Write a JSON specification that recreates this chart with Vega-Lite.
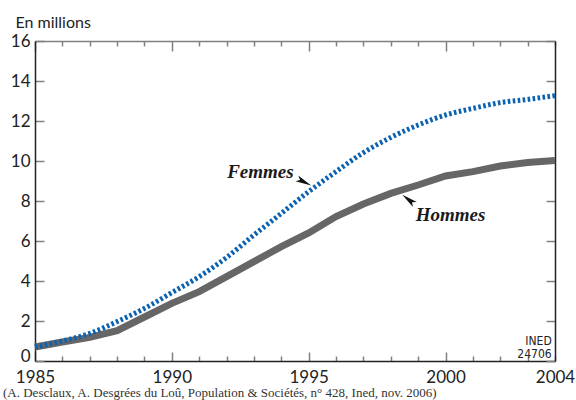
{
  "$schema": "https://vega.github.io/schema/vega-lite/v6.json",
  "width": 520,
  "height": 320,
  "autosize": {"type": "none"},
  "padding": {"left": 35, "top": 41, "right": 21, "bottom": 39},
  "background": "white",
  "config": {"view": {"stroke": null}},
  "title": {
    "text": "(A. Desclaux, A. Desgrées du Loû, Population & Sociétés, n° 428, Ined, nov. 2006)",
    "orient": "bottom",
    "anchor": "start",
    "frame": "group",
    "font": "Liberation Serif",
    "fontSize": 13,
    "fontWeight": "normal",
    "color": "#333",
    "dx": -32,
    "offset": 2
  },
  "datasets": {
    "series": [
      {"year": 1985, "Femmes": 0.7, "Hommes": 0.7},
      {"year": 1986, "Femmes": 1.0, "Hommes": 0.95},
      {"year": 1987, "Femmes": 1.38, "Hommes": 1.18},
      {"year": 1988, "Femmes": 1.97, "Hommes": 1.52},
      {"year": 1989, "Femmes": 2.63, "Hommes": 2.2},
      {"year": 1990, "Femmes": 3.42, "Hommes": 2.88},
      {"year": 1991, "Femmes": 4.22, "Hommes": 3.47},
      {"year": 1992, "Femmes": 5.18, "Hommes": 4.22},
      {"year": 1993, "Femmes": 6.3, "Hommes": 4.97},
      {"year": 1994, "Femmes": 7.38, "Hommes": 5.72},
      {"year": 1995, "Femmes": 8.47, "Hommes": 6.4},
      {"year": 1996, "Femmes": 9.47, "Hommes": 7.22},
      {"year": 1997, "Femmes": 10.42, "Hommes": 7.85},
      {"year": 1998, "Femmes": 11.18, "Hommes": 8.38},
      {"year": 1999, "Femmes": 11.8, "Hommes": 8.8},
      {"year": 2000, "Femmes": 12.3, "Hommes": 9.25},
      {"year": 2001, "Femmes": 12.63, "Hommes": 9.47},
      {"year": 2002, "Femmes": 12.92, "Hommes": 9.75},
      {"year": 2003, "Femmes": 13.08, "Hommes": 9.92},
      {"year": 2004, "Femmes": 13.27, "Hommes": 10.02}
    ],
    "labelF": [{"year": 1994.45, "value": 9.15, "text": "Femmes"}],
    "labelH": [{"year": 1998.91, "value": 7.01, "text": "Hommes"}],
    "arrowF": [{"year": 1994.83, "value": 8.95}],
    "arrowH": [{"year": 1998.65, "value": 8.07}],
    "ined": [
      {"year": 2003.88, "value": 0.8, "text": "INED"},
      {"year": 2003.88, "value": 0.17, "text": "24706"}
    ]
  },
  "layer": [
    {
      "data": {"name": "series"},
      "mark": {"type": "line", "color": "#666666", "strokeWidth": 7, "interpolate": "linear", "strokeCap": "butt"},
      "encoding": {
        "x": {
          "field": "year", "type": "quantitative",
          "scale": {"domain": [1985, 2004], "nice": false, "zero": false},
          "axis": {
            "orient": "bottom",
            "values": [1985,1986,1987,1988,1989,1990,1991,1992,1993,1994,1995,1996,1997,1998,1999,2000,2001,2002,2003,2004],
            "format": "d",
            "labelExpr": "datum.value % 5 === 0 || datum.value === 2004 ? datum.label : ''",
            "tickSize": {"condition": {"test": "datum.value % 5 === 0", "value": -9}, "value": -5},
            "labelPadding": {"condition": {"test": "datum.value % 5 === 0", "value": 17}, "value": 13},
            "tickColor": "#808080",
            "tickWidth": 1.5,
            "domainColor": "#222",
            "domainWidth": 1.5,
            "labelFont": "Lato",
            "labelFontSize": 17,
            "labelColor": "#222",
            "labelOverlap": false,
            "labelFlush": false,
            "labelBound": false,
            "grid": false,
            "title": null
          }
        },
        "y": {
          "field": "Hommes", "type": "quantitative",
          "scale": {"domain": [0, 16], "nice": false},
          "axis": {
            "orient": "left",
            "values": [0, 2, 4, 6, 8, 10, 12, 14, 16],
            "tickSize": -9,
            "tickColor": "#808080",
            "tickWidth": 1.5,
            "domainColor": "#222",
            "domainWidth": 1.5,
            "labelFont": "Lato",
            "labelFontSize": 17,
            "labelColor": "#222",
            "labelPadding": 14,
            "labelBaseline": {"condition": {"test": "datum.value === 0", "value": "alphabetic"}, "value": "middle"},
            "labelOverlap": false,
            "labelFlush": false,
            "labelBound": false,
            "grid": false,
            "title": "En millions",
            "titleAngle": 0,
            "titleAlign": "left",
            "titleBaseline": "alphabetic",
            "titleX": -20,
            "titleY": -14,
            "titleFont": "Lato",
            "titleFontSize": 16,
            "titleFontWeight": "normal",
            "titleColor": "#222"
          }
        }
      }
    },
    {
      "data": {"name": "series"},
      "mark": {"type": "line", "color": "#0a62b0", "strokeWidth": 5, "strokeDash": [2.6, 2.4], "interpolate": "monotone", "strokeCap": "butt"},
      "encoding": {
        "x": {
          "field": "year", "type": "quantitative",
          "scale": {"domain": [1985, 2004], "nice": false, "zero": false},
          "axis": {
            "orient": "top",
            "values": [1985,1986,1987,1988,1989,1990,1991,1992,1993,1994,1995,1996,1997,1998,1999,2000,2001,2002,2003,2004],
            "labels": false,
            "tickSize": {"condition": {"test": "datum.value % 5 === 0", "value": -10}, "value": -5},
            "tickColor": "#808080",
            "tickWidth": 1.5,
            "domainColor": "#808080",
            "domainWidth": 1.5,
            "grid": false,
            "title": null
          }
        },
        "y": {
          "field": "Femmes", "type": "quantitative",
          "scale": {"domain": [0, 16], "nice": false},
          "axis": {
            "orient": "right",
            "values": [0, 2, 4, 6, 8, 10, 12, 14, 16],
            "labels": false,
            "tickSize": -9,
            "tickColor": "#808080",
            "tickWidth": 1.5,
            "domainColor": "#222",
            "domainWidth": 1.5,
            "grid": false,
            "title": null
          }
        }
      }
    },
    {
      "data": {"name": "labelF"},
      "mark": {"type": "text", "align": "right", "baseline": "alphabetic", "font": "Liberation Serif", "fontSize": 19, "fontStyle": "italic", "fontWeight": "bold", "color": "#1a1a1a"},
      "encoding": {
        "x": {"field": "year", "type": "quantitative", "axis": null},
        "y": {"field": "value", "type": "quantitative", "axis": null},
        "text": {"field": "text"}
      }
    },
    {
      "data": {"name": "labelH"},
      "mark": {"type": "text", "align": "left", "baseline": "alphabetic", "font": "Liberation Serif", "fontSize": 19, "fontStyle": "italic", "fontWeight": "bold", "color": "#1a1a1a"},
      "encoding": {
        "x": {"field": "year", "type": "quantitative", "axis": null},
        "y": {"field": "value", "type": "quantitative", "axis": null},
        "text": {"field": "text"}
      }
    },
    {
      "data": {"name": "arrowF"},
      "mark": {"type": "point", "shape": "M 1 0 L -1 -0.4 L -0.55 0 L -1 0.4 Z", "filled": true, "color": "#111", "opacity": 1, "size": 256, "angle": 26},
      "encoding": {
        "x": {"field": "year", "type": "quantitative", "axis": null},
        "y": {"field": "value", "type": "quantitative", "axis": null}
      }
    },
    {
      "data": {"name": "arrowH"},
      "mark": {"type": "point", "shape": "M 1 0 L -1 -0.4 L -0.55 0 L -1 0.4 Z", "filled": true, "color": "#111", "opacity": 1, "size": 256, "angle": 218},
      "encoding": {
        "x": {"field": "year", "type": "quantitative", "axis": null},
        "y": {"field": "value", "type": "quantitative", "axis": null}
      }
    },
    {
      "data": {"name": "ined"},
      "mark": {"type": "text", "align": "right", "baseline": "alphabetic", "font": "DejaVu Sans Condensed, Liberation Sans", "fontSize": 12, "color": "#222"},
      "encoding": {
        "x": {"field": "year", "type": "quantitative", "axis": null},
        "y": {"field": "value", "type": "quantitative", "axis": null},
        "text": {"field": "text"}
      }
    }
  ],
  "resolve": {"axis": {"x": "independent", "y": "independent"}}
}
